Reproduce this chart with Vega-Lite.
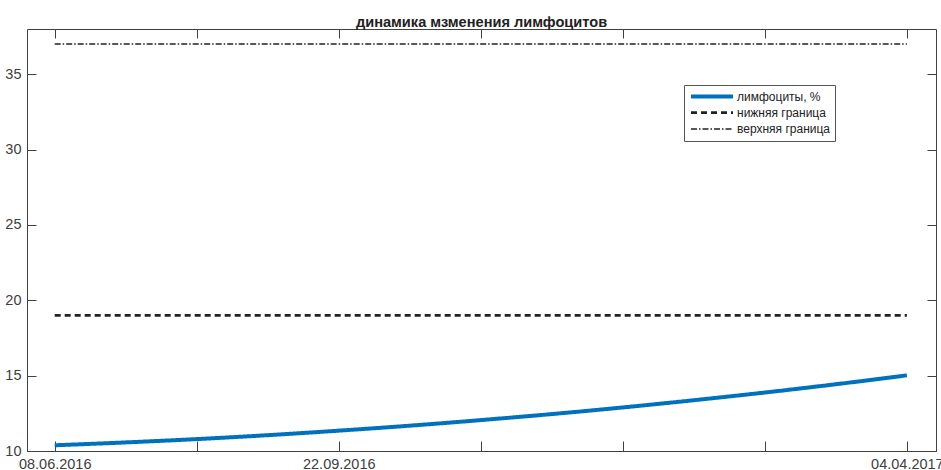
{
  "$schema": "https://vega.github.io/schema/vega-lite/v6.json",
  "autosize": "none",
  "width": 909,
  "height": 422,
  "padding": {"left": 27, "top": 29, "right": 5, "bottom": 19},
  "background": "white",
  "title": {
    "text": "динамика мзменения лимфоцитов",
    "font": "Liberation Sans",
    "fontSize": 14.6,
    "fontWeight": "bold",
    "color": "#222",
    "anchor": "middle",
    "baseline": "alphabetic",
    "offset": -13
  },
  "config": {
    "view": {"stroke": "#404040", "strokeWidth": 1},
    "axis": {
      "domain": false,
      "grid": false,
      "tickColor": "#404040",
      "labelColor": "#404040",
      "labelFont": "Liberation Sans",
      "labelFontSize": 14.5,
      "title": null
    }
  },
  "datasets": {
    "lymph": [
      {"t": 0, "value": 10.38, "series": "лимфоциты, %"},
      {"t": 0.5, "value": 10.57, "series": "лимфоциты, %"},
      {"t": 1, "value": 10.79, "series": "лимфоциты, %"},
      {"t": 1.5, "value": 11.05, "series": "лимфоциты, %"},
      {"t": 2, "value": 11.35, "series": "лимфоциты, %"},
      {"t": 2.5, "value": 11.68, "series": "лимфоциты, %"},
      {"t": 3, "value": 12.05, "series": "лимфоциты, %"},
      {"t": 3.5, "value": 12.45, "series": "лимфоциты, %"},
      {"t": 4, "value": 12.89, "series": "лимфоциты, %"},
      {"t": 4.5, "value": 13.37, "series": "лимфоциты, %"},
      {"t": 5, "value": 13.88, "series": "лимфоциты, %"},
      {"t": 5.5, "value": 14.43, "series": "лимфоциты, %"},
      {"t": 6, "value": 15.02, "series": "лимфоциты, %"}
    ],
    "bounds": [
      {"t": 0, "value": 19, "series": "нижняя граница"},
      {"t": 6, "value": 19, "series": "нижняя граница"},
      {"t": 0, "value": 37, "series": "верхняя граница"},
      {"t": 6, "value": 37, "series": "верхняя граница"}
    ]
  },
  "layer": [
    {
      "data": {"name": "lymph"},
      "mark": {"type": "line", "interpolate": "monotone", "strokeCap": "butt"},
      "encoding": {
        "x": {
          "field": "t", "type": "quantitative",
          "scale": {"domain": [-0.195, 6.205], "nice": false, "zero": false},
          "axis": {
            "orient": "bottom",
            "values": [0, 1, 2, 3, 4, 5, 6],
            "tickSize": -10,
            "labelPadding": 16,
            "labelExpr": "datum.value == 0 ? '08.06.2016' : datum.value == 2 ? '22.09.2016' : datum.value == 6 ? '04.04.2017' : ''"
          }
        },
        "y": {
          "field": "value", "type": "quantitative",
          "scale": {"domain": [10, 38], "nice": false, "zero": false},
          "axis": {
            "orient": "left",
            "values": [10, 15, 20, 25, 30, 35],
            "tickSize": -9,
            "labelPadding": 15
          }
        },
        "color": {
          "field": "series", "type": "nominal",
          "scale": {"domain": ["лимфоциты, %", "нижняя граница", "верхняя граница"], "range": ["#0072BD", "#222222", "#222222"]},
          "legend": {
            "orient": "none",
            "legendX": 657,
            "legendY": 56,
            "title": null,
            "symbolType": "stroke",
            "symbolSize": 1764,
            "clipHeight": 15,
            "labelFont": "Liberation Sans",
            "labelFontSize": 12,
            "labelColor": "#222",
            "rowPadding": 1.2,
            "padding": 4,
            "symbolOffset": 1,
            "labelOffset": 2,
            "strokeColor": "#555",
            "fillColor": "white"
          }
        },
        "strokeDash": {
          "field": "series", "type": "nominal",
          "scale": {"domain": ["лимфоциты, %", "нижняя граница", "верхняя граница"], "range": [[1, 0], [6, 4], [6, 2, 1.5, 2]]}
        },
        "strokeWidth": {
          "field": "series", "type": "nominal",
          "scale": {"domain": ["лимфоциты, %", "нижняя граница", "верхняя граница"], "range": [4, 1.5, 1.5]}
        }
      }
    },
    {
      "data": {"name": "bounds"},
      "mark": {"type": "line", "strokeCap": "butt"},
      "encoding": {
        "x": {
          "field": "t", "type": "quantitative",
          "axis": {"orient": "top", "values": [0, 1, 2, 3, 4, 5, 6], "tickSize": -9, "labels": false}
        },
        "y": {
          "field": "value", "type": "quantitative",
          "axis": {"orient": "right", "values": [10, 15, 20, 25, 30, 35], "tickSize": -9, "labels": false}
        },
        "color": {"field": "series", "type": "nominal"},
        "strokeDash": {"field": "series", "type": "nominal"},
        "strokeWidth": {"field": "series", "type": "nominal"}
      }
    }
  ],
  "resolve": {"axis": {"x": "independent", "y": "independent"}}
}
